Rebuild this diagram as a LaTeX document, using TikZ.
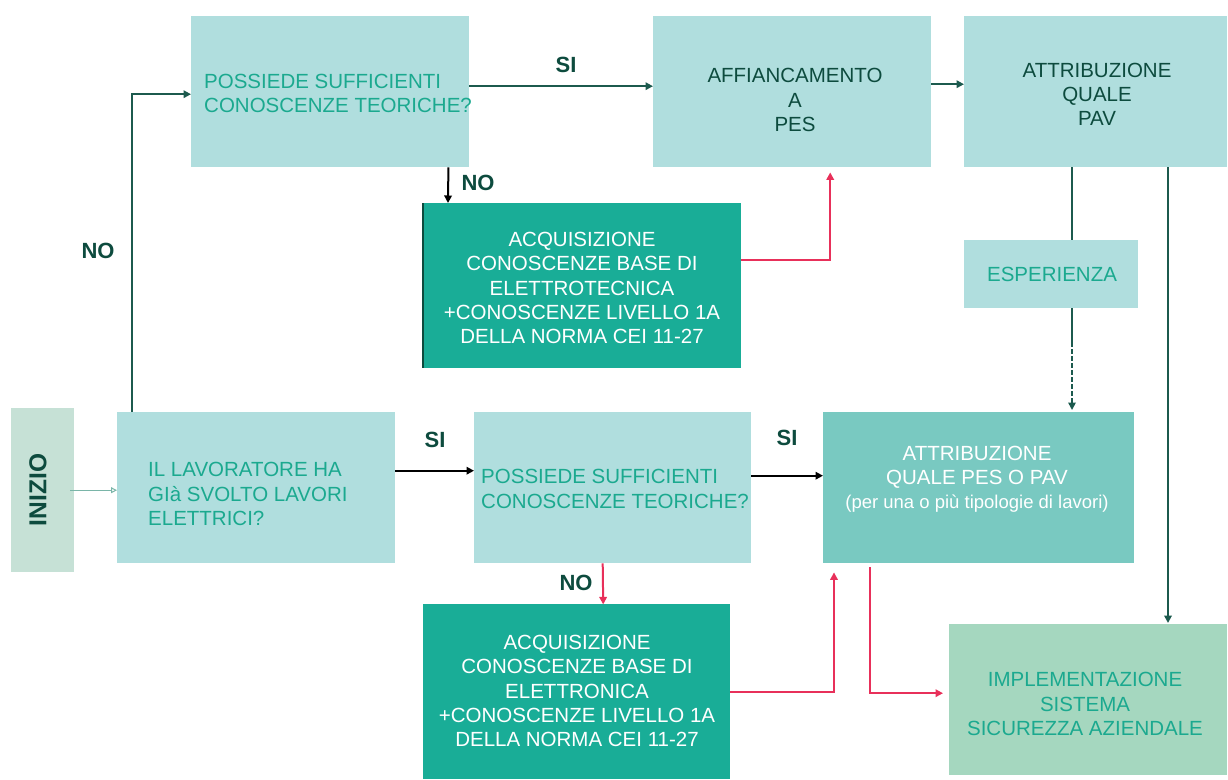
\documentclass[tikz,border=0pt]{standalone}
\usepackage{fontspec}
\setmainfont{Liberation Sans}
\usetikzlibrary{calc,arrows.meta}

\definecolor{lightbox}{HTML}{B0DEDE}
\definecolor{midbox}{HTML}{79C9C1}
\definecolor{darkbox}{HTML}{19AD97}
\definecolor{implbox}{HTML}{A5D7BF}
\definecolor{startbox}{HTML}{C6E1D6}
\definecolor{tealtext}{HTML}{1BA98F}
\definecolor{darktext}{HTML}{0D4B3E}
\definecolor{lineg}{HTML}{1C5A4E}
\definecolor{redline}{HTML}{E8305A}
\definecolor{thinline}{HTML}{7AB5A8}

\tikzset{
  box/.style={draw=none, inner sep=0pt, anchor=north west},
  lbox/.style={box, fill=lightbox},
  mbox/.style={box, fill=midbox},
  dbox/.style={box, fill=darkbox},
  ibox/.style={box, fill=implbox},
  sbox/.style={box, fill=startbox},
  btext/.style={inner sep=0pt, font=\fontsize{20.5}{24.2}\selectfont},
  qtext/.style={btext, text=tealtext, align=left, anchor=west},
  ctext/.style={btext, text=tealtext, align=center},
  wtext/.style={btext, text=white, align=center},
  gtext/.style={btext, text=darktext, align=center},
  answer/.style={inner sep=0pt, text=darktext, font=\fontsize{22}{24}\selectfont\bfseries},
  tip/.style={-{Triangle[length=7.5pt,width=7.5pt]}},
  gline/.style={draw=lineg, line width=2pt},
  kline/.style={draw=black, line width=2pt},
  rline/.style={draw=redline, line width=2pt},
}

\begin{document}
\begin{tikzpicture}[x=1pt,y=-1pt]
\useasboundingbox (0,0) rectangle (1228,779);

% boxes
\node[sbox, minimum width=63,  minimum height=164] (inizio) at (11,408)  {};
\node[lbox, minimum width=278, minimum height=151] (q1)     at (117,412) {};
\node[lbox, minimum width=277, minimum height=151] (q2)     at (474,412) {};
\node[mbox, minimum width=311, minimum height=151] (attrib) at (823,412) {};
\node[dbox, minimum width=307, minimum height=175] (acq2)   at (423,604) {};
\node[ibox, minimum width=278, minimum height=151] (impl)   at (949,624) {};
\node[lbox, minimum width=278, minimum height=151] (q0)     at (191,16)  {};
\node[lbox, minimum width=278, minimum height=151] (aff)    at (653,16)  {};
\node[lbox, minimum width=263, minimum height=151] (pav)    at (964,16)  {};
\node[dbox, minimum width=318, minimum height=165] (acq1)   at (423,203) {};
\node[lbox, minimum width=174, minimum height=68]  (esp)    at (964,240) {};
\draw[draw=darktext, line width=1.5pt] (acq1.north west) -- (acq1.south west);

% texts
\node[inner sep=0pt, text=darktext, rotate=90, font=\fontsize{24.5}{26}\selectfont\bfseries] (tinizio) at (38,490) {INIZIO};
\node[qtext] (tq1) at (148,494) {IL LAVORATORE HA\\GIà SVOLTO LAVORI\\ELETTRICI?};
\node[qtext] (tq2) at (481,489) {POSSIEDE SUFFICIENTI\\CONOSCENZE TEORICHE?};
\node[qtext] (tq0) at (204,93.5) {POSSIEDE SUFFICIENTI\\CONOSCENZE TEORICHE?};
\node[gtext] (taff) at (795,100) {AFFIANCAMENTO\\A\\PES};
\node[gtext] (tpav) at (1097,94.5) {ATTRIBUZIONE\\QUALE\\PAV};
\node[wtext] (tacq1) at (582,288) {ACQUISIZIONE\\CONOSCENZE BASE DI\\ELETTROTECNICA\\+CONOSCENZE LIVELLO 1A\\DELLA NORMA CEI 11-27};
\node[wtext] (tacq2) at (577,691) {ACQUISIZIONE\\CONOSCENZE BASE DI\\ELETTRONICA\\+CONOSCENZE LIVELLO 1A\\DELLA NORMA CEI 11-27};
\node[wtext] (tattrib) at (977,479) {ATTRIBUZIONE\\QUALE PES O PAV\\{\fontsize{18.5}{24.2}\selectfont (per una o più tipologie di lavori)}};
\node[ctext] (timpl) at (1085,704) {IMPLEMENTAZIONE\\SISTEMA\\SICUREZZA AZIENDALE};
\node[ctext] (tesp) at (1052,274) {ESPERIENZA};

% answer labels
\node[answer] (no1) at (98,251)  {NO};
\node[answer] (si1) at (435,440) {SI};
\node[answer] (si2) at (787,438) {SI};
\node[answer] (no2) at (576,583) {NO};
\node[answer] (si3) at (566,65)  {SI};
\node[answer] (no3) at (478,183) {NO};

% connectors
\draw[draw=thinline, line width=1pt, -{Triangle[open,length=6pt,width=6pt]}]
  ($(inizio.east)+(-4,0)$) -- (inizio.east -| q1.west);
\draw[gline, tip] ($(q1.north west)+(15,0)$) |- ($(q0.west)+(0,2.5)$);
\draw[kline, tip] ($(q1.east)+(0,-17)$) -- ($(q2.west)+(0,-17)$);
\draw[kline, tip] ($(q2.east)+(0,-12)$) -- ($(attrib.west)+(0,-12)$);
\draw[rline, tip] ($(q2.south)+(-10,0)$) -- ($(q2.south -| acq2.north)+(26.5,41)$);
\draw[rline, tip] (acq2.east) -| ($(attrib.south west)+(11,9)$);
\draw[rline, tip] ($(attrib.south west)+(47,4)$) |- ($(impl.west)+(-6,-6.5)$);
\draw[gline, tip] ($(q0.east)+(0,-5.5)$) -- ($(aff.west)+(0,-5.5)$);
\draw[kline, tip] ($(q0.south east)+(-21,0)$) -- ($(acq1.north west)+(25,0)$);
\draw[rline, tip] ($(acq1.east)+(0,-25.5)$) -| ($(aff.south)+(38,5)$);
\draw[gline, tip] ($(aff.east)+(0,-7.5)$) -- ($(pav.west)+(0,-7.5)$);
\draw[gline] ($(pav.south west)+(108,0)$) -- ($(esp.north west)+(108,0)$);
\draw[gline] ($(esp.south west)+(108,0)$) -- ($(esp.south west)+(108,34)$) coordinate (espdash);
\draw[gline, line width=1.6pt, dash pattern=on 5pt off 2pt, tip] (espdash) -- ($(attrib.north west)+(249,-2)$);
\draw[gline, tip] ($(pav.south west)+(204,0)$) -- ($(impl.north west)+(219,-1)$);
\end{tikzpicture}
\end{document}
